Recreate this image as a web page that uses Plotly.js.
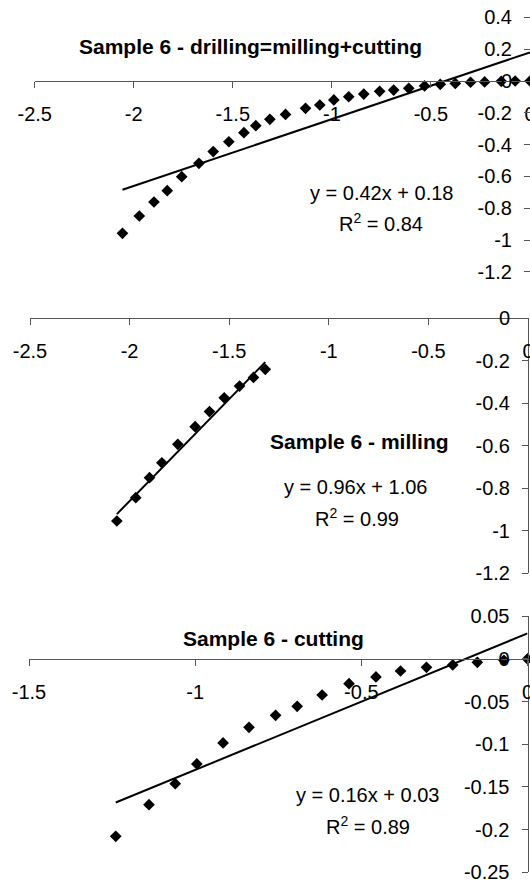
<!DOCTYPE html>
<html>
<head>
<meta charset="utf-8">
<script src="https://cdn.plot.ly/plotly-3.0.1.min.js"></script>
<style>html,body{margin:0;padding:0;background:#fff;}#chart{width:530px;height:883px;}</style>
</head>
<body>
<div id="chart"></div>
<script>
// ---- Data ----
const p1Title = "Sample 6 - drilling=milling+cutting";
const p1x = [-2.057,-1.972,-1.898,-1.831,-1.758,-1.671,-1.599,-1.520,-1.444,-1.384,-1.313,-1.234,-1.133,-1.061,-0.990,-0.915,-0.839,-0.759,-0.688,-0.612,-0.532,-0.453,-0.377,-0.300,-0.229,-0.145,-0.075,0];
const p1y = [-0.958,-0.849,-0.761,-0.690,-0.602,-0.518,-0.444,-0.382,-0.325,-0.281,-0.241,-0.210,-0.172,-0.151,-0.119,-0.099,-0.082,-0.065,-0.057,-0.046,-0.031,-0.021,-0.015,-0.008,-0.006,-0.002,0,0];
const p1Slope = 0.42, p1Intercept = 0.18, p1R2 = "0.84";

const p2Title = "Sample 6 - milling";
const p2x = [-2.064,-1.969,-1.900,-1.838,-1.758,-1.671,-1.599,-1.525,-1.448,-1.378,-1.319];
const p2y = [-0.954,-0.844,-0.750,-0.680,-0.593,-0.510,-0.439,-0.374,-0.319,-0.278,-0.240];
const p2Slope = 0.96, p2Intercept = 1.06, p2R2 = "0.99";

const p3Title = "Sample 6 - cutting";
const p3x = [-1.239,-1.139,-1.060,-0.995,-0.916,-0.838,-0.758,-0.693,-0.618,-0.537,-0.456,-0.382,-0.304,-0.225,-0.151,-0.071,0];
const p3y = [-0.2078,-0.1707,-0.1461,-0.1230,-0.0984,-0.0801,-0.0660,-0.0555,-0.0422,-0.0289,-0.0211,-0.0141,-0.0098,-0.0070,-0.0039,-0.0016,0];
const p3Slope = 0.16, p3Intercept = 0.03, p3R2 = "0.89";

// tick labels
const xTicks12 = [-2.5,-2,-1.5,-1,-0.5,0];
const xTickText12 = ["-2.5","-2","-1.5","-1","-0.5","0"];
const xTicks3 = [-1.5,-1,-0.5,0];
const xTickText3 = ["-1.5","-1","-0.5","0"];
const yTicks1 = [0.4,0.2,0,-0.2,-0.4,-0.6,-0.8,-1,-1.2];
const yTickText1 = ["0.4","0.2","0","-0.2","-0.4","-0.6","-0.8","-1","-1.2"];
const yTicks2 = [0,-0.2,-0.4,-0.6,-0.8,-1,-1.2];
const yTickText2 = ["0","-0.2","-0.4","-0.6","-0.8","-1","-1.2"];
const yTicks3 = [0.05,0,-0.05,-0.1,-0.15,-0.2,-0.25];
const yTickText3 = ["0.05","0","-0.05","-0.1","-0.15","-0.2","-0.25"];

// ---- Layout helpers ----
const W = 530, H = 883;
const FONT = "Arial, 'Liberation Sans', sans-serif";
const px = v => v / W;
const py = v => 1 - v / H;
const EPS = 1e-6;

function fitLine(xs, slope, intercept) {
  const lo = Math.min(...xs), hi = Math.max(...xs);
  return { x: [lo, hi], y: [slope * lo + intercept, slope * hi + intercept] };
}

const panels = [
  { xs: p1x, ys: p1y, slope: p1Slope, icpt: p1Intercept, xr: [-2.5, 0], yr: [-1.2, 0.4],
    xdom: [px(34.7), 1.0], ydom: [py(271.8), py(17.4)], xt: xTicks12, xtt: xTickText12, yt: yTicks1, ytt: yTickText1 },
  { xs: p2x, ys: p2y, slope: p2Slope, icpt: p2Intercept, xr: [-2.5, 0], yr: [-1.2, 0],
    xdom: [px(30), px(528)], ydom: [py(573.3), py(318.3)], xt: xTicks12, xtt: xTickText12, yt: yTicks2, ytt: yTickText2 },
  { xs: p3x, ys: p3y, slope: p3Slope, icpt: p3Intercept, xr: [-1.5, 0], yr: [-0.25, 0.05],
    xdom: [px(29), px(527.5)], ydom: [py(872.3), py(616.3)], xt: xTicks3, xtt: xTickText3, yt: yTicks3, ytt: yTickText3 }
];

const traces = [];
const layout = {
  width: W, height: H,
  margin: { l: 0, r: 0, t: 0, b: 0, pad: 0 },
  paper_bgcolor: "#fff", plot_bgcolor: "rgba(0,0,0,0)",
  showlegend: false,
  font: { family: FONT, size: 20, color: "#000" },
  annotations: []
};

panels.forEach((p, i) => {
  const n = i + 1;
  const xa = n === 1 ? "x" : "x" + n, ya = n === 1 ? "y" : "y" + n;
  const xk = n === 1 ? "xaxis" : "xaxis" + n, yk = n === 1 ? "yaxis" : "yaxis" + n;
  const line = fitLine(p.xs, p.slope, p.icpt);
  traces.push({ type: "scatter", mode: "lines", x: line.x, y: line.y, xaxis: xa, yaxis: ya,
    line: { color: "#000", width: 2 }, cliponaxis: false, hoverinfo: "skip" });
  traces.push({ type: "scatter", mode: "markers", x: p.xs, y: p.ys, xaxis: xa, yaxis: ya,
    marker: { symbol: "diamond", size: 9, color: "#000" }, cliponaxis: false });
  const yr = [p.yr[0] - EPS * (p.yr[1] - p.yr[0]), p.yr[1] + EPS * (p.yr[1] - p.yr[0])];
  const xr = [p.xr[0] - EPS * (p.xr[1] - p.xr[0]), p.xr[1] + EPS * (p.xr[1] - p.xr[0])];
  const zeroPos = p.ydom[0] + (0 - yr[0]) / (yr[1] - yr[0]) * (p.ydom[1] - p.ydom[0]);
  layout[xk] = {
    domain: p.xdom, range: xr, anchor: "free", position: zeroPos, side: "bottom",
    showgrid: false, zeroline: false, showline: true, linecolor: "#555", linewidth: 1,
    ticks: "outside", ticklen: 6, tickcolor: "#555", tickwidth: 1,
    tickmode: "array", tickvals: p.xt, ticktext: p.xtt, ticklabelstandoff: 9,
    ticklabeloverflow: "allow",
    tickfont: { family: FONT, size: 20, color: "#000" }, fixedrange: true
  };
  layout[yk] = {
    domain: p.ydom, range: yr, anchor: "free", position: p.xdom[1], side: "left",
    showgrid: false, zeroline: false, showline: true, linecolor: "#555", linewidth: 1,
    ticks: "outside", ticklen: 6, tickcolor: "#555", tickwidth: 1,
    tickmode: "array", tickvals: p.yt, ticktext: p.ytt, ticklabelstandoff: 8,
    ticklabeloverflow: "allow",
    tickfont: { family: FONT, size: 20, color: "#000" }, fixedrange: true
  };
});

function ann(text, x, y, bold) {
  layout.annotations.push({
    text: bold ? "<b>" + text + "</b>" : text,
    xref: "paper", yref: "paper", x: px(x), y: py(y),
    xanchor: "center", yanchor: "middle", showarrow: false,
    font: { family: FONT, size: bold ? 21 : 20, color: "#000" }
  });
}
function eq(slope, icpt) { return "y = " + slope.toFixed(2) + "x + " + icpt.toFixed(2); }

ann(p1Title, 250, 47, true);
ann(eq(p1Slope, p1Intercept), 381, 193);
ann("R<sup>2</sup> = " + p1R2, 381, 222);
ann(p2Title, 359, 442, true);
ann(eq(p2Slope, p2Intercept), 355, 487);
ann("R<sup>2</sup> = " + p2R2, 357, 517);
ann(p3Title, 273, 638, true);
ann(eq(p3Slope, p3Intercept), 367, 795);
ann("R<sup>2</sup> = " + p3R2, 368, 825);

Plotly.newPlot("chart", traces, layout, { staticPlot: true, displayModeBar: false });
</script>
</body>
</html>
